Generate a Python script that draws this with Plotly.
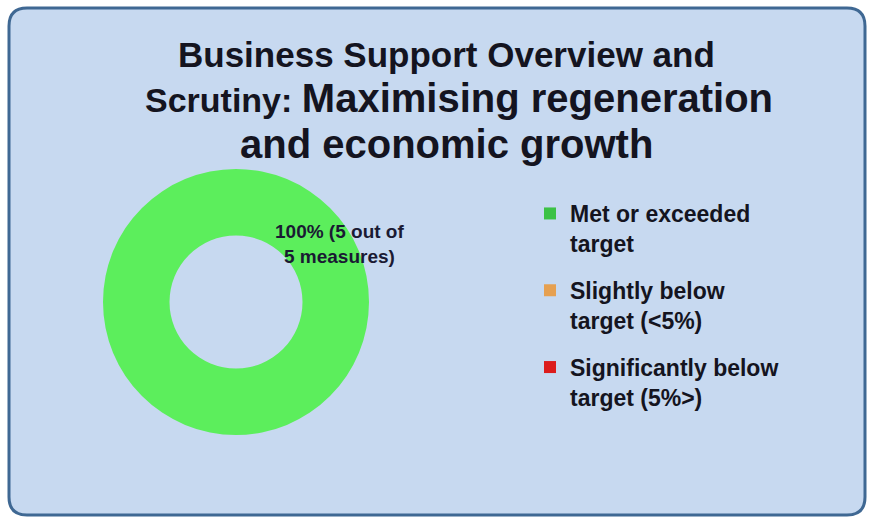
import plotly.graph_objects as go

# ---- data ----
categories = ["Met or exceeded target", "Slightly below target (<5%)", "Significantly below target (5%>)"]
legend_labels = ["Met or exceeded<br>target", "Slightly below<br>target (<5%)", "Significantly below<br>target (5%>)"]
measures = [5, 0, 0]
colors = ["#5cee5c", "#e8a455", "#e02424"]
legend_colors = ["#3cc245", "#e6a050", "#dc1c1c"]

W, H = 869, 518
total = sum(measures)
pct = round(100 * measures[0] / total)

def px(x):
    return x / W

def py(y):
    return 1 - y / H

fig = go.Figure()

# donut
cx, cy, r = 236, 302, 133
fig.add_trace(go.Pie(
    labels=categories,
    values=measures,
    hole=0.5,
    sort=False,
    direction="clockwise",
    marker=dict(colors=colors, line=dict(width=0)),
    textinfo="none",
    hoverinfo="label+value",
    showlegend=False,
    domain=dict(x=[px(cx - r), px(cx + r)], y=[py(cy + r), py(cy - r)]),
))

# legend entries
for i, (lab, col) in enumerate(zip(legend_labels, legend_colors)):
    fig.add_trace(go.Scatter(
        x=[None], y=[None], mode="markers", name=lab,
        legendgroup=f"g{i}",
        marker=dict(symbol="square", size=9, color=col, line=dict(color=col, width=0)),
    ))

# rounded panel
L, T, R, B, rad = 9, 8, 865, 515, 18
path = (
    f"M {px(L+rad)},{py(T)} L {px(R-rad)},{py(T)} Q {px(R)},{py(T)} {px(R)},{py(T+rad)} "
    f"L {px(R)},{py(B-rad)} Q {px(R)},{py(B)} {px(R-rad)},{py(B)} "
    f"L {px(L+rad)},{py(B)} Q {px(L)},{py(B)} {px(L)},{py(B-rad)} "
    f"L {px(L)},{py(T+rad)} Q {px(L)},{py(T)} {px(L+rad)},{py(T)} Z"
)
fig.add_shape(type="path", path=path, xref="paper", yref="paper",
              fillcolor="#c7d9f0", line=dict(color="#3f6893", width=3), layer="below")

font_family = "Liberation Sans, Arial, sans-serif"
dark = "#141420"

title_lines = [
    ("Business Support Overview and", 446, 54, 35),
    ("Scrutiny: <span style='font-size:40px'>Maximising regeneration</span>", 459, 98, 34),
    ("and economic growth", 446, 144, 40),
]
for txt, x, y, s in title_lines:
    fig.add_annotation(text=txt, x=px(x), y=py(y), xref="paper", yref="paper",
                       xanchor="center", yanchor="middle", showarrow=False,
                       font=dict(family=font_family, size=s, color=dark, weight="bold"))

# slice label
fig.add_annotation(text=f"{pct}% ({measures[0]} out of<br>{total} measures)",
                   x=px(339), y=py(244), xref="paper", yref="paper",
                   xanchor="center", yanchor="middle", showarrow=False, align="center",
                   font=dict(family=font_family, size=19, color="#1a1a33", weight="bold"))

fig.update_layout(
    width=W, height=H,
    margin=dict(l=0, r=0, t=0, b=0),
    paper_bgcolor="white",
    plot_bgcolor="rgba(0,0,0,0)",
    xaxis=dict(visible=False),
    yaxis=dict(visible=False),
    legend=dict(
        x=px(530), y=py(192), xanchor="left", yanchor="top",
        bgcolor="rgba(0,0,0,0)", valign="top",
        font=dict(family=font_family, size=23, color=dark, weight="bold"),
        tracegroupgap=14, itemsizing="constant", itemwidth=30,
    ),
)

fig.write_html("out.html", config={"displayModeBar": False},
               post_script="document.body.style.margin='0';document.body.style.overflow='hidden';")
